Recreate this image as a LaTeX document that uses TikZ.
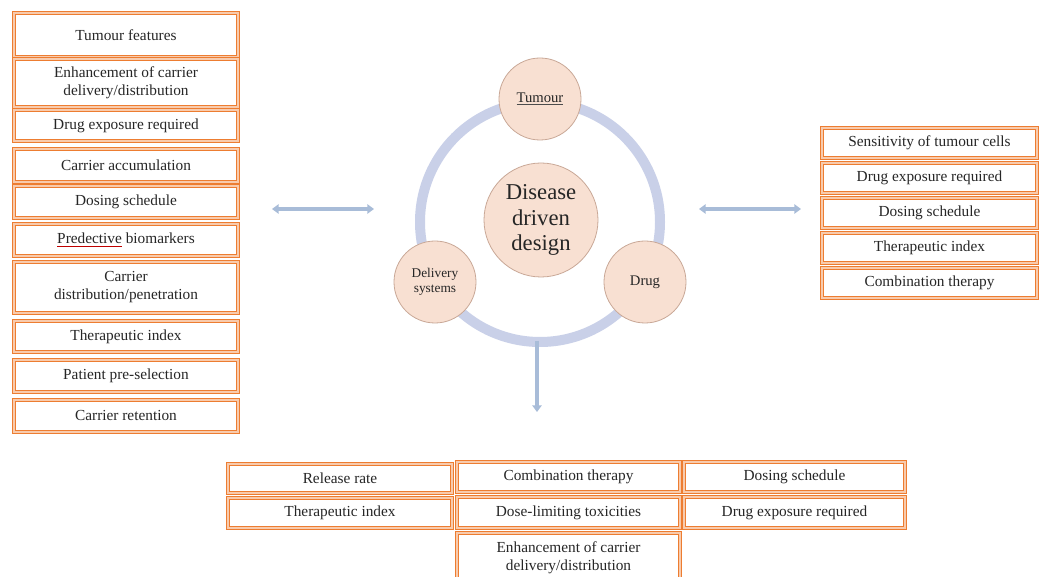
\documentclass[tikz,border=0pt]{standalone}
\usepackage{fontspec}
\setmainfont{Liberation Serif}
\usetikzlibrary{arrows.meta}
\definecolor{orng}{HTML}{ED7D31}
\definecolor{orngl}{HTML}{F8CBAD}
\definecolor{ringc}{HTML}{C9D0E8}
\definecolor{arrc}{HTML}{A8BCD8}
\definecolor{peach}{HTML}{F8E0D2}
\definecolor{peachd}{HTML}{C9A897}
\definecolor{txt}{HTML}{262626}
\newcommand\squig[2]{{\color{#2}$\underline{\hbox{\color{txt}#1}}$}}
\newcommand\obox[6]{\node[obox, minimum width={(#4-#2)*0.75pt}, minimum height={(#5-#3)*0.75pt}] (#1) at ({(#2+#4)/2},{(#3+#5)/2}) {#6};}
\tikzset{
  obox/.style={draw=orng, line width=0.85pt, double=orngl, double distance=0.9pt, fill=white, inner sep=0pt, align=center, text=txt,
    font=\fontsize{11.5pt}{13.5pt}\selectfont},
  bub/.style={circle, draw=peachd, line width=0.6pt, fill=peach, inner sep=0pt, align=center, text=txt},
  darr/.style={draw=arrc, line width=3.6pt, {Triangle[length=5pt,width=7pt]}-{Triangle[length=5pt,width=7pt]}},
  sarr/.style={draw=arrc, line width=3pt, -{Triangle[length=5pt,width=7pt]}}
}
\begin{document}
\begin{tikzpicture}[x=0.75pt,y=-0.75pt]
\clip (0,0) rectangle (1040,577);
\fill[white] (0,0) rectangle (1040,577);
% ring
\coordinate (ctr) at (540,222);
\draw[ringc, line width=7.5pt] (ctr) circle [radius=120];
% circles
\node[bub, minimum size=85.5pt, font=\fontsize{17pt}{18.8pt}\selectfont] (dd) at (541,220) {Disease\\driven\\design};
\node[bub, minimum size=61.5pt, font=\fontsize{11pt}{13pt}\selectfont] (tum) at (540,99) {\squig{Tumour}{black!70}};
\node[bub, minimum size=61.5pt, font=\fontsize{10pt}{11.5pt}\selectfont] (del) at (435,282) {Delivery\\systems};
\node[bub, minimum size=61.5pt, font=\fontsize{11pt}{13pt}\selectfont] (drg) at (645,282) {Drug};
% arrows
\coordinate (la1) at (272,209);
\coordinate (la2) at (374,209);
\coordinate (ra1) at (699,209);
\coordinate (ra2) at (801,209);
\coordinate (ba1) at (537,341);
\coordinate (ba2) at (537,412);
\draw[darr] (la1) -- (la2);
\draw[darr] (ra1) -- (ra2);
\draw[sarr] (ba1) -- (ba2);
% left column
\obox{l1}{14}{13}{238}{57}{Tumour features}
\obox{l2}{14}{59}{238}{107}{Enhancement of carrier\\delivery/distribution}
\obox{l3}{14}{110}{238}{141}{Drug exposure required}
\obox{l4}{14}{149}{238}{182}{Carrier accumulation}
\obox{l5}{14}{186}{238}{218}{Dosing schedule}
\obox{l6}{14}{224}{238}{256}{\squig{Predective}{red!75!black} biomarkers}
\obox{l7}{14}{262}{238}{313}{Carrier\\distribution/penetration}
\obox{l8}{14}{321}{238}{352}{Therapeutic index}
\obox{l9}{14}{360}{238}{392}{Patient pre-selection}
\obox{l10}{14}{400}{238}{432}{Carrier retention}
% right column
\obox{r1}{822}{128}{1037}{158}{Sensitivity of tumour cells}
\obox{r2}{822}{163}{1037}{193}{Drug exposure required}
\obox{r3}{822}{198}{1037}{228}{Dosing schedule}
\obox{r4}{822}{233}{1037}{263}{Therapeutic index}
\obox{r5}{822}{268}{1037}{298}{Combination therapy}
% bottom
\obox{b1}{228}{464}{452}{493}{Release rate}
\obox{b2}{228}{498}{452}{528}{Therapeutic index}
\obox{b3}{457}{462}{680}{492}{Combination therapy}
\obox{b4}{457}{497}{680}{528}{Dose-limiting toxicities}
\obox{b5}{457}{533}{680}{582}{Enhancement of carrier\\delivery/distribution}
\obox{b6}{684}{462}{905}{492}{Dosing schedule}
\obox{b7}{684}{497}{905}{528}{Drug exposure required}
\end{tikzpicture}
\end{document}
